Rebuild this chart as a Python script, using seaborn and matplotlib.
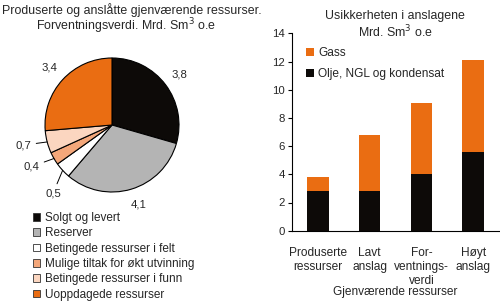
import numpy as np
import pandas as pd
import matplotlib
matplotlib.use("Agg")
import matplotlib.pyplot as plt
import matplotlib.patches as mpatches
import seaborn as sns

# ---- data ----
pie_labels = ["Solgt og levert", "Reserver", "Betingede ressurser i felt",
              "Mulige tiltak for økt utvinning", "Betingede ressurser i funn",
              "Uoppdagede ressurser"]
pie_values = [3.8, 4.1, 0.5, 0.4, 0.7, 3.4]
pie_value_text = ["3,8", "4,1", "0,5", "0,4", "0,7", "3,4"]
pie_colors = ["#0d0a08", "#b4b4b4", "#ffffff", "#f4a77a", "#fbd6c0", "#ea6d12"]

bar_categories = ["Produserte\nressurser", "Lavt\nanslag", "For-\nventnings-\nverdi", "Høyt\nanslag"]
olje_values = [2.85, 2.8, 4.0, 5.55]
total_values = [3.8, 6.8, 9.05, 12.1]

sns.set_theme(style="white")
plt.rcParams['font.family'] = ['Liberation Sans', 'DejaVu Sans']

W, H = 500, 302
fig = plt.figure(figsize=(5.0, 3.02), dpi=100)

def px_rect(x0, y0, x1, y1):
    return [x0 / W, 1 - y1 / H, (x1 - x0) / W, (y1 - y0) / H]

FS = 8.9
# ---- titles ----
fig.text(132 / W, 1 - 10 / H, "Produserte og anslåtte gjenværende ressurser.",
         ha="center", va="center", fontsize=FS)
fig.text(126 / W, 1 - 26 / H, "Forventningsverdi. Mrd. Sm$^3$ o.e",
         ha="center", va="center", fontsize=FS)
fig.text(395 / W, 1 - 16 / H, "Usikkerheten i anslagene",
         ha="center", va="center", fontsize=FS)
fig.text(395 / W, 1 - 32 / H, "Mrd. Sm$^3$ o.e",
         ha="center", va="center", fontsize=FS)

# ---- pie ----
cx, cy, r = 112, 125, 67
axp = fig.add_axes(px_rect(cx - r, cy - r, cx + r, cy + r))
wedges, _ = axp.pie(pie_values, colors=pie_colors, startangle=90, counterclock=False,
                    radius=1.0, wedgeprops=dict(edgecolor="black", linewidth=0.8))
axp.set_xlim(-1, 1)
axp.set_ylim(-1, 1)
axp.set_aspect("equal")
axp.axis("off")

label_pos = [(1.0, 0.76), (0.40, -1.18), (-0.88, -1.02), (-1.08, -0.62),
             (-1.20, -0.30), (-0.93, 0.86)]
leader = [False, False, True, True, True, False]
for w, txt, pos, ld in zip(wedges, pie_value_text, label_pos, leader):
    ang = np.deg2rad((w.theta1 + w.theta2) / 2)
    ex, ey = np.cos(ang), np.sin(ang)
    if ld:
        axp.annotate(txt, xy=(ex, ey), xytext=pos, ha="right" if pos[1] > -0.9 else "center",
                     va="center", fontsize=8.2, annotation_clip=False,
                     arrowprops=dict(arrowstyle="-", color="black", lw=0.7,
                                     shrinkA=1, shrinkB=0))
    else:
        axp.text(pos[0], pos[1], txt, ha="center", va="center", fontsize=8.2, clip_on=False)

pie_handles = [mpatches.Patch(facecolor=c, edgecolor="#333333", linewidth=0.6, label=l)
               for c, l in zip(pie_colors, pie_labels)]
fig.legend(handles=pie_handles, loc="upper left", bbox_to_anchor=(33 / W, 1 - 212 / H),
           frameon=False, fontsize=8.5, handlelength=0.6, handleheight=0.6,
           handletextpad=0.45, labelspacing=0.28, borderaxespad=0, borderpad=0)

# ---- bars ----
axb = fig.add_axes(px_rect(292, 33.3, 499, 230.7))
df = pd.DataFrame({"kategori": bar_categories, "olje": olje_values, "total": total_values})
sns.barplot(data=df, x="kategori", y="total", color="#ea6d12", width=0.42,
            saturation=1, ax=axb, label="Gass", linewidth=0)
sns.barplot(data=df, x="kategori", y="olje", color="#0d0a08", width=0.42,
            saturation=1, ax=axb, label="Olje, NGL og kondensat", linewidth=0)
axb.set_ylim(0, 14)
axb.set_xlim(-0.5, 3.5)
axb.set_yticks(range(0, 15, 2))
axb.set_ylabel("")
axb.set_xlabel("Gjenværende ressurser", fontsize=8.6, labelpad=-0.5)
for s in ["top", "right"]:
    axb.spines[s].set_visible(False)
for s in ["left", "bottom"]:
    axb.spines[s].set_color("black")
    axb.spines[s].set_linewidth(0.8)
axb.tick_params(axis="y", left=True, length=3, width=0.8, color="black", labelsize=8.2, pad=2)
axb.tick_params(axis="x", bottom=False, labelsize=8.6, pad=6)
axb.legend(loc="upper left", bbox_to_anchor=(0.07, 0.93), frameon=False, fontsize=8.6,
           handlelength=0.6, handleheight=0.6, handletextpad=0.4, labelspacing=0.75,
           borderaxespad=0, borderpad=0)

fig.savefig("out.png", dpi=100)
